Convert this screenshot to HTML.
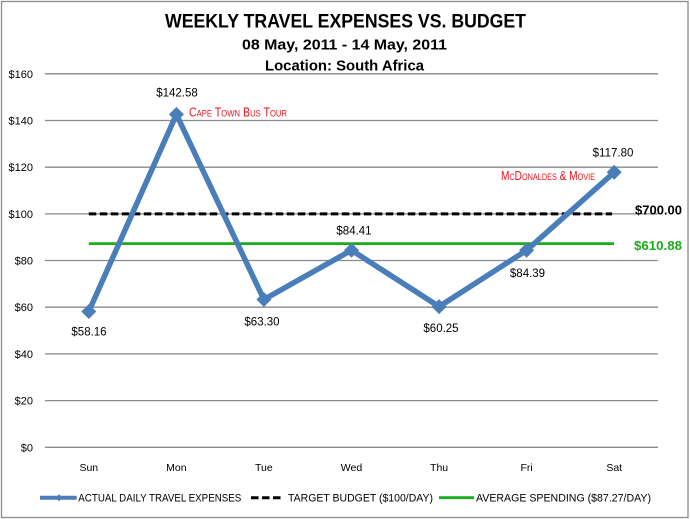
<!DOCTYPE html>
<html>
<head>
<meta charset="utf-8">
<style>
html,body{margin:0;padding:0;background:#fff;}
svg{display:block;}
text{font-family:"Liberation Sans",sans-serif;}
</style>
</head>
<body>
<svg width="690" height="519" viewBox="0 0 690 519" xmlns="http://www.w3.org/2000/svg">
  <rect x="0" y="0" width="690" height="519" fill="#fff"/>
  <rect x="1.5" y="1.5" width="686.5" height="516" fill="none" stroke="#8c8c8c" stroke-width="1.3"/>

  <!-- Titles -->
  <text x="165" y="27.7" font-size="19" font-weight="bold" fill="#000" textLength="361" lengthAdjust="spacingAndGlyphs">WEEKLY TRAVEL EXPENSES VS. BUDGET</text>
  <text x="242" y="49.3" font-size="15" font-weight="bold" fill="#000" textLength="205" lengthAdjust="spacingAndGlyphs">08 May, 2011 - 14 May, 2011</text>
  <text x="265" y="70.7" font-size="15" font-weight="bold" fill="#000" textLength="159" lengthAdjust="spacingAndGlyphs">Location: South Africa</text>

  <!-- Gridlines -->
  <g stroke="#8a8a8a" stroke-width="1.3">
    <line x1="45" y1="73.8" x2="658" y2="73.8"/>
    <line x1="45" y1="120.5" x2="658" y2="120.5"/>
    <line x1="45" y1="167.2" x2="658" y2="167.2"/>
    <line x1="45" y1="213.9" x2="658" y2="213.9"/>
    <line x1="45" y1="260.5" x2="658" y2="260.5"/>
    <line x1="45" y1="307.2" x2="658" y2="307.2"/>
    <line x1="45" y1="353.9" x2="658" y2="353.9"/>
    <line x1="45" y1="400.6" x2="658" y2="400.6"/>
    <line x1="45" y1="447.3" x2="658" y2="447.3"/>
  </g>

  <!-- Y labels -->
  <g font-size="11" fill="#000" text-anchor="end">
    <text x="33" y="77.8">$160</text>
    <text x="33" y="124.5">$140</text>
    <text x="33" y="171.2">$120</text>
    <text x="33" y="217.9">$100</text>
    <text x="33" y="264.5">$80</text>
    <text x="33" y="311.2">$60</text>
    <text x="33" y="357.9">$40</text>
    <text x="33" y="404.6">$20</text>
    <text x="33" y="451.3">$0</text>
  </g>

  <!-- X labels -->
  <g font-size="10.5" fill="#000" text-anchor="middle">
    <text x="88.8" y="471">Sun</text>
    <text x="176.4" y="471">Mon</text>
    <text x="263.9" y="471">Tue</text>
    <text x="351.5" y="471">Wed</text>
    <text x="439.1" y="471">Thu</text>
    <text x="526.6" y="471">Fri</text>
    <text x="614.2" y="471">Sat</text>
  </g>

  <!-- Target & average lines -->
  <line x1="88.8" y1="213.9" x2="612" y2="213.9" stroke="#000" stroke-width="3" stroke-dasharray="7.5,3.5"/>
  <line x1="88.8" y1="243.6" x2="614" y2="243.6" stroke="#1aac1a" stroke-width="2.8"/>

  <!-- Actual series -->
  <polyline points="88.8,311.5 176.4,114.4 263.9,299.5 351.5,250.2 439.1,306.6 526.6,250.3 614.2,172.3" fill="none" stroke="#4a7ebb" stroke-width="5.5" stroke-linejoin="miter"/>
  <g fill="#4a7ebb">
    <polygon points="88.8,304 96.3,311.5 88.8,319 81.3,311.5"/>
    <polygon points="176.4,106.9 183.9,114.4 176.4,121.9 168.9,114.4"/>
    <polygon points="263.9,292 271.4,299.5 263.9,307 256.4,299.5"/>
    <polygon points="351.5,242.7 359,250.2 351.5,257.7 344,250.2"/>
    <polygon points="439.1,299.1 446.6,306.6 439.1,314.1 431.6,306.6"/>
    <polygon points="526.6,242.8 534.1,250.3 526.6,257.8 519.1,250.3"/>
    <polygon points="614.2,164.8 621.7,172.3 614.2,179.8 606.7,172.3"/>
  </g>

  <!-- Data labels -->
  <g font-size="11.5" fill="#000" text-anchor="middle">
    <text x="89" y="335.5">$58.16</text>
    <text x="177" y="96.7">$142.58</text>
    <text x="262" y="325.5">$63.30</text>
    <text x="354" y="234.5">$84.41</text>
    <text x="441" y="332">$60.25</text>
    <text x="527.5" y="277">$84.39</text>
    <text x="613" y="156.5">$117.80</text>
  </g>

  <!-- Annotations -->
  <text x="189" y="116.5" font-size="12.5" fill="#e8141c" font-variant="small-caps" textLength="98" lengthAdjust="spacingAndGlyphs">Cape Town Bus Tour</text>
  <text x="501" y="180" font-size="12.5" fill="#e8141c" font-variant="small-caps" textLength="94" lengthAdjust="spacingAndGlyphs">McDonaldes &amp; Movie</text>

  <!-- Right labels -->
  <text x="635" y="214.5" font-size="13" font-weight="bold" fill="#000" textLength="47" lengthAdjust="spacingAndGlyphs">$700.00</text>
  <text x="634" y="250.2" font-size="13" font-weight="bold" fill="#1aac1a" textLength="48" lengthAdjust="spacingAndGlyphs">$610.88</text>

  <!-- Legend -->
  <line x1="40" y1="497.7" x2="76.7" y2="497.7" stroke="#4a7ebb" stroke-width="4"/>
  <polygon points="59,494.2 62.5,497.7 59,501.2 55.5,497.7" fill="#4a7ebb"/>
  <text x="78.3" y="501.7" font-size="11" fill="#000" textLength="163" lengthAdjust="spacingAndGlyphs">ACTUAL DAILY TRAVEL EXPENSES</text>
  <line x1="251" y1="497.7" x2="282" y2="497.7" stroke="#000" stroke-width="3" stroke-dasharray="7.5,3.5"/>
  <text x="288" y="501.7" font-size="11" fill="#000" textLength="145" lengthAdjust="spacingAndGlyphs">TARGET BUDGET ($100/DAY)</text>
  <line x1="439" y1="497.7" x2="474" y2="497.7" stroke="#1aac1a" stroke-width="2.8"/>
  <text x="476" y="501.7" font-size="11" fill="#000" textLength="175" lengthAdjust="spacingAndGlyphs">AVERAGE SPENDING ($87.27/DAY)</text>
</svg>
</body>
</html>
